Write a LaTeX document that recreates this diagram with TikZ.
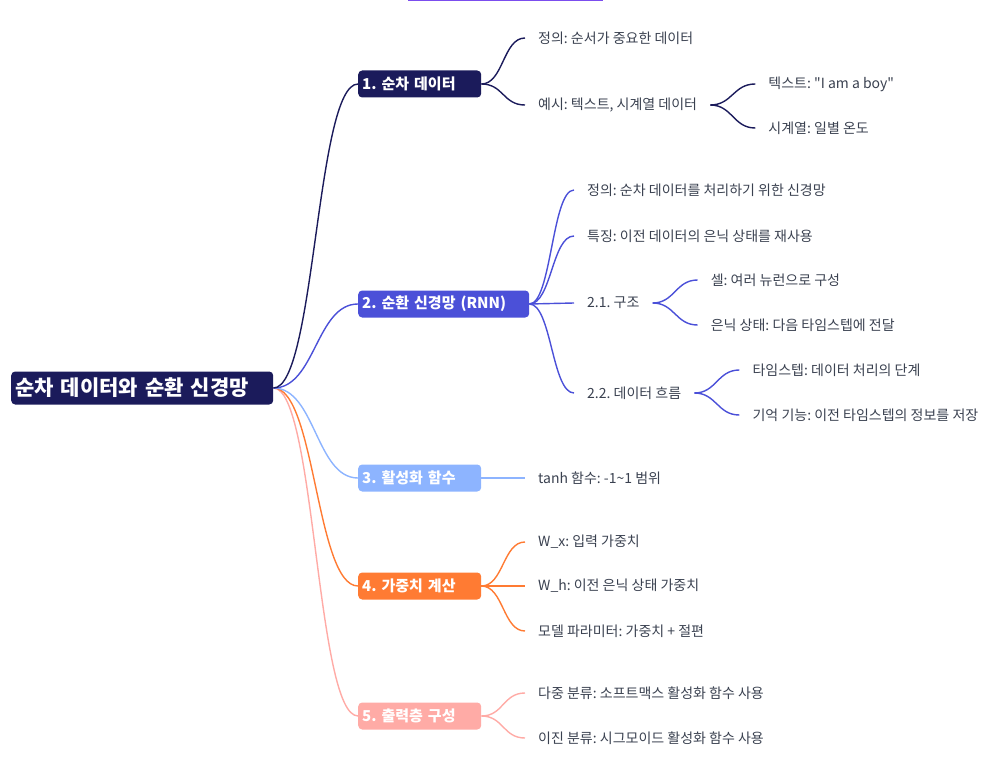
\documentclass[tikz,border=0pt]{standalone}
\usepackage{fontspec}
\setmainfont{Noto Sans CJK KR}[Ligatures=TeXOff]
\usepackage{tikz}
\usetikzlibrary{positioning}
\definecolor{navy}{HTML}{1B1B5B}
\definecolor{rnn}{HTML}{4B50D8}
\definecolor{act}{HTML}{8DB4FF}
\definecolor{wgt}{HTML}{FF7B33}
\definecolor{outc}{HTML}{FFABA6}
\definecolor{leaftext}{HTML}{3A4150}
\definecolor{topbar}{HTML}{7B4DEE}
\frenchspacing

\begin{document}
\begin{tikzpicture}[x=1pt,y=-1pt,
	root/.style={fill=navy,rounded corners=4pt,text=white,anchor=west,
		font=\bfseries\fontsize{21}{24}\selectfont,minimum height=33pt,
		inner xsep=4pt,text width=254pt,align=left},
	topic/.style={fill=#1,rounded corners=4pt,text=white,anchor=west,
		font=\bfseries\fontsize{15}{18}\selectfont,minimum height=27pt,
		inner xsep=4pt,text width=115pt,align=left},
	leaf/.style={anchor=west,text=leaftext,font=\fontsize{14}{17}\selectfont,
		inner xsep=13pt,inner ysep=2pt},
	link/.style={draw=#1,line width=1.4pt},
	node distance=45pt]
	\useasboundingbox (0,0) rectangle (1003,759);
	\fill[topbar] (408,0) rectangle (603,1.5);

	\node[root] (r) at (11,388) {순차 데이터와 순환 신경망};
	\node[topic=navy] (b_1) at (358,84) {1. 순차 데이터};
	\node[topic=rnn,text width=163pt] (b_2) at (358,304) {2. 순환 신경망 (RNN)};
	\node[topic=act] (b_3) at (358,478) {3. 활성화 함수};
	\node[topic=wgt] (b_4) at (358,586) {4. 가중치 계산};
	\node[topic=outc] (b_5) at (358,716) {5. 출력층 구성};

	\node[leaf] (l_11) at (525,38) {정의: 순서가 중요한 데이터};
	\node[leaf] (l_12) at (525,105) {예시: 텍스트, 시계열 데이터};
	\node[leaf] (l_121) [right=of l_12,yshift=21pt] {텍스트: "I am a boy"};
	\node[leaf] (l_122) [right=of l_12,yshift=-23pt] {시계열: 일별 온도};

	\node[leaf] (l_21) at (574,190) {정의: 순차 데이터를 처리하기 위한 신경망};
	\node[leaf] (l_22) at (574,236) {특징: 이전 데이터의 은닉 상태를 재사용};
	\node[leaf] (l_23) at (574,303) {2.1. 구조};
	\node[leaf] (l_231) [right=of l_23,yshift=23pt] {셀: 여러 뉴런으로 구성};
	\node[leaf] (l_232) [right=of l_23,yshift=-22pt] {은닉 상태: 다음 타임스텝에 전달};
	\node[leaf] (l_24) at (574,393) {2.2. 데이터 흐름};
	\node[leaf] (l_241) [right=of l_24,yshift=23pt] {타임스텝: 데이터 처리의 단계};
	\node[leaf] (l_242) [right=of l_24,yshift=-22pt] {기억 기능: 이전 타임스텝의 정보를 저장};

	\node[leaf] (l_31) at (525,478) {tanh 함수: -1\textasciitilde 1 범위};

	\node[leaf] (l_41) at (525,542) {W\_x: 입력 가중치};
	\node[leaf] (l_42) at (525,586) {W\_h: 이전 은닉 상태 가중치};
	\node[leaf] (l_43) at (525,631) {모델 파라미터: 가중치 + 절편};

	\node[leaf] (l_51) at (525,693) {다중 분류: 소프트맥스 활성화 함수 사용};
	\node[leaf] (l_52) at (525,738) {이진 분류: 시그모이드 활성화 함수 사용};

	\draw[link=outc] (r.east) .. controls +(42,0) and +(-42,0) .. (b_5.west);
	\draw[link=wgt] (r.east) .. controls +(42,0) and +(-42,0) .. (b_4.west);
	\draw[link=act] (r.east) .. controls +(42,0) and +(-42,0) .. (b_3.west);
	\draw[link=rnn] (r.east) .. controls +(42,0) and +(-42,0) .. (b_2.west);
	\draw[link=navy] (r.east) .. controls +(42,0) and +(-42,0) .. (b_1.west);

	\draw[link=navy] (b_1.east) .. controls +(22,0) and +(-22,0) .. (l_11.west);
	\draw[link=navy] (b_1.east) .. controls +(22,0) and +(-22,0) .. (l_12.west);
	\draw[link=navy] (l_12.east) .. controls +(22,0) and +(-22,0) .. (l_121.west);
	\draw[link=navy] (l_12.east) .. controls +(22,0) and +(-22,0) .. (l_122.west);

	\draw[link=rnn] (b_2.east) .. controls +(22,0) and +(-22,0) .. (l_21.west);
	\draw[link=rnn] (b_2.east) .. controls +(22,0) and +(-22,0) .. (l_22.west);
	\draw[link=rnn] (b_2.east) .. controls +(22,0) and +(-22,0) .. (l_23.west);
	\draw[link=rnn] (b_2.east) .. controls +(22,0) and +(-22,0) .. (l_24.west);
	\draw[link=rnn] (l_23.east) .. controls +(22,0) and +(-22,0) .. (l_231.west);
	\draw[link=rnn] (l_23.east) .. controls +(22,0) and +(-22,0) .. (l_232.west);
	\draw[link=rnn] (l_24.east) .. controls +(22,0) and +(-22,0) .. (l_241.west);
	\draw[link=rnn] (l_24.east) .. controls +(22,0) and +(-22,0) .. (l_242.west);

	\draw[link=act] (b_3.east) -- (l_31.west);

	\draw[link=wgt] (b_4.east) .. controls +(22,0) and +(-22,0) .. (l_41.west);
	\draw[link=wgt] (b_4.east) -- (l_42.west);
	\draw[link=wgt] (b_4.east) .. controls +(22,0) and +(-22,0) .. (l_43.west);

	\draw[link=outc] (b_5.east) .. controls +(22,0) and +(-22,0) .. (l_51.west);
	\draw[link=outc] (b_5.east) .. controls +(22,0) and +(-22,0) .. (l_52.west);
\end{tikzpicture}
\end{document}
